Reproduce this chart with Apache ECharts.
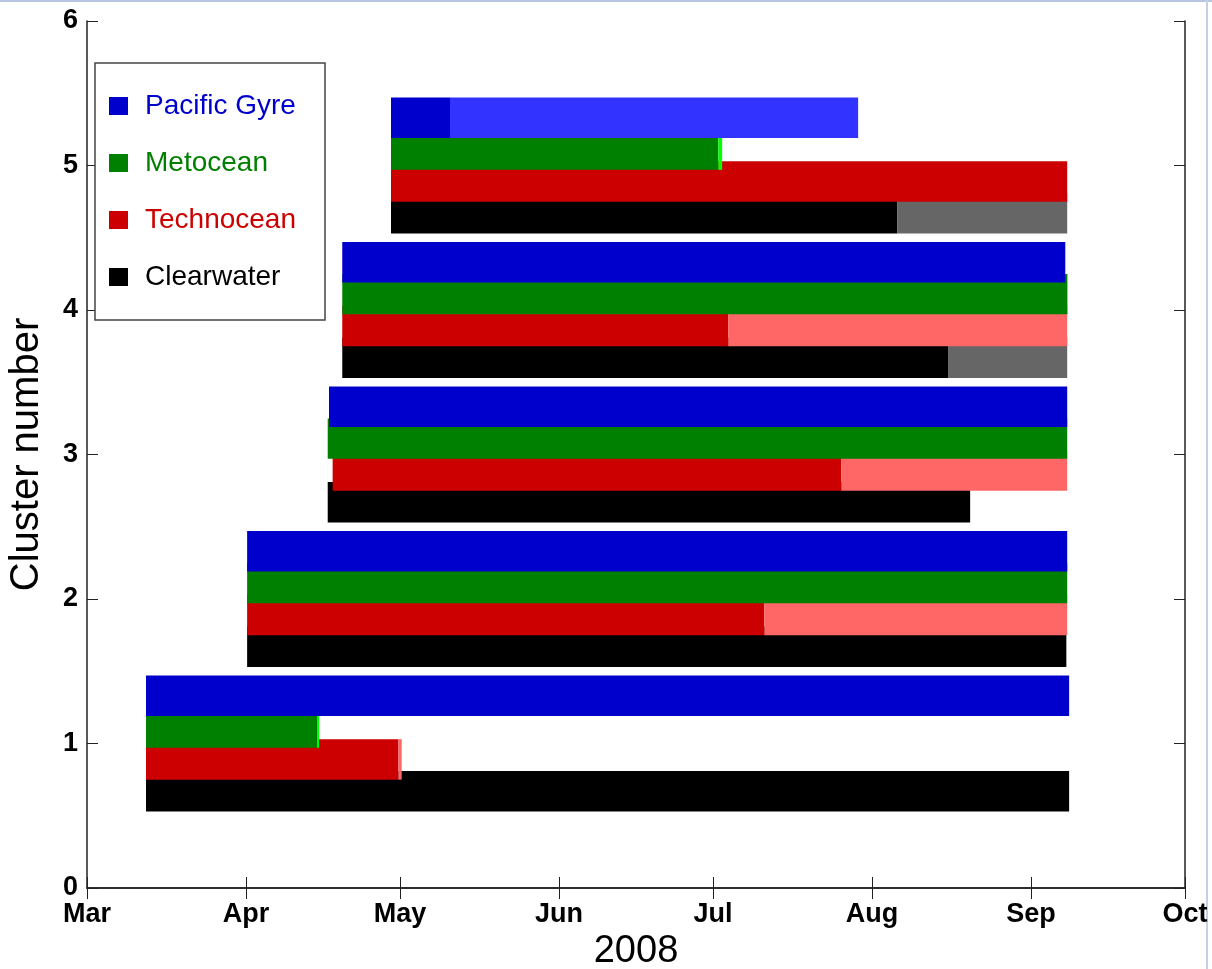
<!DOCTYPE html>
<html>
<head>
<meta charset="utf-8">
<title>Cluster number 2008</title>
<script src="https://cdn.jsdelivr.net/npm/echarts@6/dist/echarts.min.js"></script>
<style>
  html, body { margin: 0; padding: 0; background: #fff; }
  #main { width: 1212px; height: 969px; }
</style>
</head>
<body>
<div id="main"></div>
<script>
// month ticks on the date axis
const monthTicks = ['2008-03-01', '2008-04-01', '2008-05-01', '2008-06-01',
  '2008-07-01', '2008-08-01', '2008-09-01', '2008-10-01']
const clusters = [1, 2, 3, 4, 5]
const companies = ['Pacific Gyre', 'Metocean', 'Technocean', 'Clearwater']

// each cluster: [start, date where the colour turns light, end]
const pacificGyre = [
  ['2008-03-12 12:00', '2008-09-08 10:00', '2008-09-08 10:00'],
  ['2008-04-01 05:00', '2008-09-08 01:00', '2008-09-08 01:00'],
  ['2008-04-17 04:00', '2008-09-08 01:00', '2008-09-08 01:00'],
  ['2008-04-19 18:00', '2008-09-07 16:00', '2008-09-07 16:00'],
  ['2008-04-29 06:00', '2008-05-10 18:00', '2008-07-29 07:00'],
]
const metocean = [
  ['2008-03-12 12:00', '2008-04-14 20:00', '2008-04-15 06:00'],
  ['2008-04-01 05:00', '2008-09-08 01:00', '2008-09-08 01:00'],
  ['2008-04-16 22:00', '2008-09-08 01:00', '2008-09-08 01:00'],
  ['2008-04-19 18:00', '2008-09-08 02:00', '2008-09-08 02:00'],
  ['2008-04-29 06:00', '2008-07-02 01:00', '2008-07-02 19:00'],
]
const technocean = [
  ['2008-03-12 12:00', '2008-04-30 16:00', '2008-05-01 08:00'],
  ['2008-04-01 05:00', '2008-07-11 00:00', '2008-09-08 01:00'],
  ['2008-04-17 21:00', '2008-07-26 00:00', '2008-09-08 01:00'],
  ['2008-04-19 18:00', '2008-07-03 23:00', '2008-09-08 01:00'],
  ['2008-04-29 06:00', '2008-09-08 01:00', '2008-09-08 01:00'],
]
const clearwater = [
  ['2008-03-12 12:00', '2008-09-08 10:00', '2008-09-08 10:00'],
  ['2008-04-01 05:00', '2008-09-07 21:00', '2008-09-07 21:00'],
  ['2008-04-16 22:00', '2008-08-20 03:00', '2008-08-20 03:00'],
  ['2008-04-19 18:00', '2008-08-15 22:00', '2008-09-08 01:00'],
  ['2008-04-29 06:00', '2008-08-05 23:00', '2008-09-08 01:00'],
]

const darkColors = ['#0000cc', '#008000', '#cc0000', '#000000']
const lightColors = ['#3333ff', '#00ff00', '#ff6666', '#666666']
const offsets = [0.33, 0.11, -0.11, -0.33]
const barHeight = 0.28

const t = (s) => echarts.time.parse(s).getTime()
const fontFamily = 'Liberation Sans, Arial, sans-serif'

function buildSeries(name, rows, idx) {
  return {
    name: name,
    type: 'custom',
    xAxisIndex: 0,
    yAxisIndex: 0,
    itemStyle: { color: darkColors[idx] },
    encode: { x: [1, 2, 3], y: 0 },
    renderItem: function (params, api) {
      const k = api.value(0) + offsets[idx]
      const p0 = api.coord([api.value(1), k + barHeight / 2])
      const p1 = api.coord([api.value(2), k - barHeight / 2])
      const p2 = api.coord([api.value(3), k - barHeight / 2])
      return {
        type: 'group',
        children: [
          {
            type: 'rect',
            shape: { x: p0[0], y: p0[1], width: p1[0] - p0[0], height: p1[1] - p0[1] },
            style: { fill: darkColors[idx] },
          },
          {
            type: 'rect',
            shape: { x: p1[0], y: p0[1], width: p2[0] - p1[0], height: p1[1] - p0[1] },
            style: { fill: lightColors[idx] },
          },
        ],
      }
    },
    data: rows.map((r, i) => [clusters[i], t(r[0]), t(r[1]), t(r[2])]),
  }
}

const chart = echarts.init(document.getElementById('main'))
const monthValues = monthTicks.map(t)

const axisLine = { show: true, lineStyle: { color: '#222', width: 1.5 } }
const tickStyle = { color: '#222', width: 1 }

const option = {
  backgroundColor: '#fff',
  animation: false,
  grid: { left: 87, right: 27, top: 21, bottom: 81, outerBoundsMode: 'none' },
  legend: {
    orient: 'vertical',
    left: 95,
    top: 63,
    icon: 'rect',
    itemWidth: 19,
    itemHeight: 18,
    itemGap: 29,
    padding: [29, 29, 29, 14],
    borderColor: '#444',
    borderWidth: 1.5,
    backgroundColor: '#fff',
    selectedMode: false,
    textStyle: { fontSize: 28, fontFamily: fontFamily, lineHeight: 28, padding: [0, 0, 0, 12] },
    data: companies.map((c, i) => ({ name: c, textStyle: { color: darkColors[i] } })),
  },
  xAxis: [
    {
      type: 'time',
      position: 'bottom',
      min: t(monthTicks[0]),
      max: t(monthTicks[monthTicks.length - 1]),
      name: '2008',
      nameLocation: 'middle',
      nameGap: 43,
      nameTextStyle: { fontSize: 38, color: '#000', fontFamily: fontFamily },
      axisLine: axisLine,
      axisTick: { show: true, inside: true, length: 11, lineStyle: tickStyle, customValues: monthValues },
      axisLabel: {
        customValues: monthValues,
        formatter: '{MMM}',
        fontSize: 27,
        fontWeight: 'bold',
        fontFamily: fontFamily,
        color: '#000',
        margin: 13,
        showMinLabel: true,
        showMaxLabel: true,
      },
      splitLine: { show: false },
    },
    {
      type: 'time',
      position: 'top',
      min: t(monthTicks[0]),
      max: t(monthTicks[monthTicks.length - 1]),
      axisLine: axisLine,
      axisTick: { show: true, inside: true, length: 11, lineStyle: tickStyle, customValues: monthValues },
      axisLabel: { show: false },
      splitLine: { show: false },
    },
  ],
  yAxis: [
    {
      type: 'value',
      position: 'left',
      min: 0,
      max: 6,
      interval: 1,
      name: 'Cluster number',
      nameLocation: 'middle',
      nameGap: 40,
      nameTextStyle: { fontSize: 40, color: '#000', fontFamily: fontFamily },
      axisLine: axisLine,
      axisTick: { show: true, inside: true, length: 11, lineStyle: tickStyle },
      axisLabel: { fontSize: 27, fontWeight: 'bold', fontFamily: fontFamily, color: '#000', margin: 9 },
      splitLine: { show: false },
    },
    {
      type: 'value',
      position: 'right',
      min: 0,
      max: 6,
      interval: 1,
      axisLine: axisLine,
      axisTick: { show: true, inside: true, length: 11, lineStyle: tickStyle },
      axisLabel: { show: false },
      splitLine: { show: false },
    },
  ],
  graphic: [
    { type: 'rect', left: 0, top: 0, shape: { width: 1212, height: 2 }, style: { fill: '#b8c6e2' }, silent: true },
    { type: 'rect', left: 1206, top: 0, shape: { width: 2, height: 969 }, style: { fill: '#c4d0e8' }, silent: true },
  ],
  // draw order: Clearwater first, Pacific Gyre on top
  series: [
    buildSeries('Clearwater', clearwater, 3),
    buildSeries('Technocean', technocean, 2),
    buildSeries('Metocean', metocean, 1),
    buildSeries('Pacific Gyre', pacificGyre, 0),
  ],
}

chart.setOption(option)
window.addEventListener('resize', function () {
  chart.resize()
})
</script>
</body>
</html>
